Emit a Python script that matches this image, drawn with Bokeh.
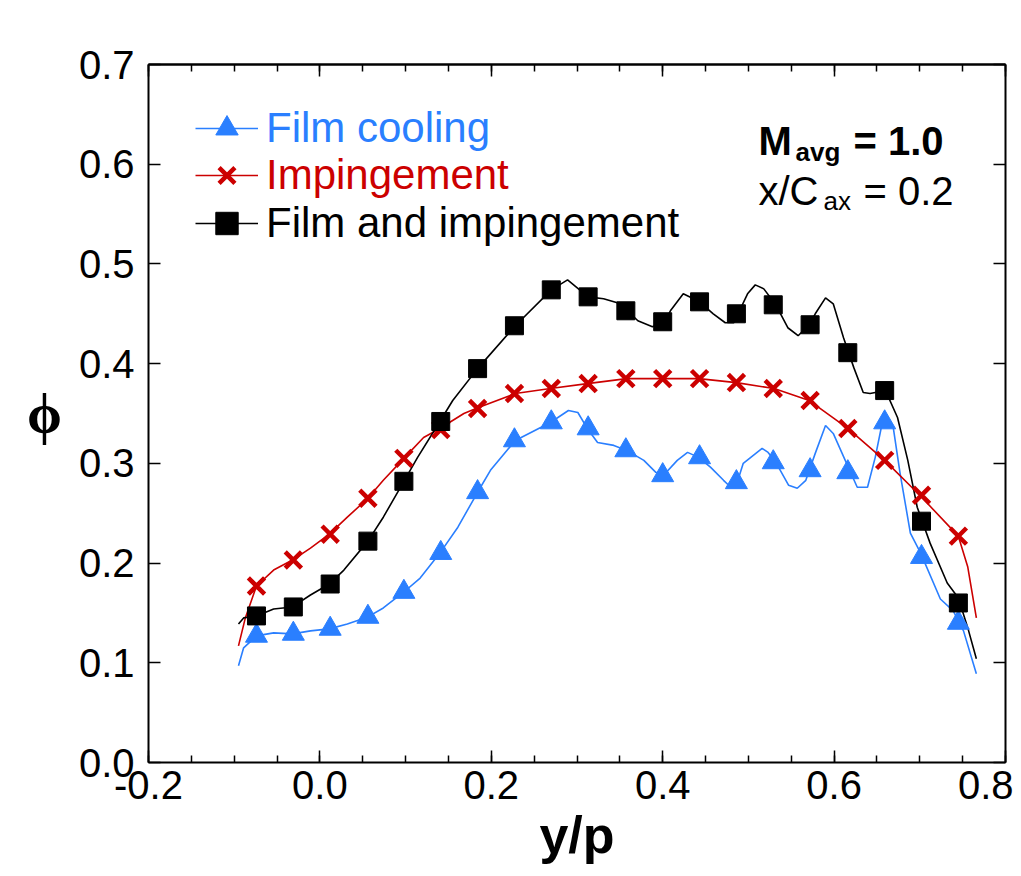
from bokeh.plotting import figure
from bokeh.models import (Range1d, LinearAxis, FixedTicker, NumeralTickFormatter,
                          Legend, LegendItem, Label)
from bokeh.embed import file_html
from bokeh.resources import INLINE

# ---------------- data ----------------
# marker positions (y/p)
marker_x = [-0.074, -0.031, 0.012, 0.056, 0.098, 0.141, 0.184, 0.227, 0.270, 0.313,
            0.357, 0.400, 0.443, 0.486, 0.529, 0.572, 0.616, 0.659, 0.702, 0.745]
film_marker = [0.127, 0.129, 0.134, 0.146, 0.171, 0.210, 0.271, 0.323, 0.341, 0.335,
               0.313, 0.288, 0.306, 0.281, 0.301, 0.293, 0.291, 0.341, 0.206, 0.140]
imp_marker = [0.177, 0.203, 0.229, 0.265, 0.305, 0.334, 0.355, 0.370, 0.375, 0.380,
              0.385, 0.385, 0.385, 0.381, 0.375, 0.363, 0.335, 0.303, 0.268, 0.227]
both_marker = [0.147, 0.156, 0.179, 0.222, 0.282, 0.342, 0.395, 0.438, 0.474, 0.467,
               0.453, 0.442, 0.462, 0.450, 0.459, 0.439, 0.411, 0.373, 0.242, 0.160]

# continuous curves
film_x = [-0.095, -0.089, -0.074, -0.054, -0.032, -0.011, 0.011, 0.032, 0.056, 0.074,
          0.098, 0.117, 0.140, 0.161, 0.184, 0.199, 0.228, 0.269, 0.290, 0.301,
          0.312, 0.324, 0.343, 0.358, 0.378, 0.392, 0.401, 0.417, 0.429, 0.442,
          0.456, 0.471, 0.477, 0.487, 0.494, 0.516, 0.523, 0.532, 0.547, 0.557,
          0.567, 0.578, 0.590, 0.599, 0.613, 0.627, 0.639, 0.648, 0.656, 0.669,
          0.677, 0.689, 0.701, 0.724, 0.739, 0.751, 0.766]
film_y = [0.097, 0.115, 0.127, 0.130, 0.129, 0.132, 0.134, 0.139, 0.146, 0.155,
          0.171, 0.185, 0.210, 0.236, 0.271, 0.293, 0.323, 0.341, 0.353, 0.351,
          0.335, 0.321, 0.318, 0.313, 0.303, 0.291, 0.288, 0.303, 0.311, 0.306,
          0.296, 0.283, 0.278, 0.281, 0.300, 0.315, 0.311, 0.301, 0.278, 0.275,
          0.283, 0.310, 0.338, 0.330, 0.303, 0.276, 0.276, 0.306, 0.340, 0.336,
          0.290, 0.230, 0.210, 0.164, 0.152, 0.132, 0.089]

imp_x = [-0.095, -0.087, -0.074, -0.054, -0.032, -0.011, 0.011, 0.032, 0.056, 0.074,
         0.098, 0.121, 0.138, 0.168, 0.185, 0.228, 0.269, 0.312, 0.358, 0.402,
         0.442, 0.486, 0.530, 0.571, 0.616, 0.659, 0.700, 0.745, 0.756, 0.766]
imp_y = [0.117, 0.145, 0.177, 0.193, 0.203, 0.215, 0.229, 0.246, 0.265, 0.283,
         0.305, 0.326, 0.334, 0.350, 0.356, 0.370, 0.375, 0.380, 0.385, 0.385,
         0.385, 0.381, 0.375, 0.363, 0.335, 0.303, 0.268, 0.227, 0.196, 0.145]

both_x = [-0.095, -0.089, -0.074, -0.054, -0.032, -0.011, 0.011, 0.028, 0.056, 0.074,
          0.098, 0.114, 0.140, 0.155, 0.184, 0.228, 0.270, 0.289, 0.313, 0.331,
          0.347, 0.359, 0.371, 0.388, 0.402, 0.409, 0.424, 0.443, 0.459, 0.473,
          0.483, 0.499, 0.508, 0.518, 0.532, 0.546, 0.558, 0.571, 0.578, 0.590,
          0.599, 0.611, 0.623, 0.634, 0.642, 0.660, 0.674, 0.686, 0.697, 0.712,
          0.732, 0.745, 0.756, 0.766]
both_y = [0.139, 0.145, 0.147, 0.154, 0.156, 0.168, 0.179, 0.193, 0.222, 0.246,
          0.282, 0.306, 0.342, 0.363, 0.395, 0.438, 0.474, 0.484, 0.467, 0.465,
          0.461, 0.453, 0.443, 0.437, 0.442, 0.453, 0.470, 0.462, 0.450, 0.441,
          0.441, 0.470, 0.479, 0.475, 0.459, 0.436, 0.428, 0.439, 0.450, 0.466,
          0.460, 0.426, 0.396, 0.371, 0.370, 0.373, 0.346, 0.303, 0.256, 0.220,
          0.180, 0.165, 0.135, 0.104]

series_labels = ["Film cooling", "Impingement", "Film and impingement"]
x_ticks = [-0.2, 0.0, 0.2, 0.4, 0.6, 0.8]
x_minor = [-0.2, -0.15, -0.1, -0.05, 0.0, 0.05, 0.1, 0.15, 0.2, 0.25, 0.3, 0.35,
           0.4, 0.45, 0.5, 0.55, 0.6, 0.65, 0.7, 0.75, 0.8]
y_ticks = [0.0, 0.1, 0.2, 0.3, 0.4, 0.5, 0.6, 0.7]

BLUE = "#2a7fff"
RED = "#cc0000"
BLACK = "#000000"
FONT = "Liberation Sans"

p = figure(frame_width=857, frame_height=698, output_backend="svg", toolbar_location=None,
           x_range=Range1d(-0.2, 0.8), y_range=Range1d(0.0, 0.7),
           min_border_left=148, min_border_right=8, min_border_top=64, min_border_bottom=106)
p.background_fill_color = "white"
p.border_fill_color = "white"
p.outline_line_color = None
p.xgrid.visible = False
p.ygrid.visible = False


def style_axis(ax, major, minor):
    ax.ticker = FixedTicker(ticks=major, minor_ticks=minor)
    ax.formatter = NumeralTickFormatter(format="0.0")
    ax.axis_line_width = 2
    ax.axis_line_color = "black"
    ax.major_tick_in = 12
    ax.major_tick_out = 0
    ax.major_tick_line_width = 1.5
    ax.major_tick_line_color = "black"
    ax.minor_tick_in = 7
    ax.minor_tick_out = 0
    ax.minor_tick_line_width = 1.5
    ax.minor_tick_line_color = "black" if minor else None
    ax.major_label_text_font = FONT
    ax.major_label_text_color = "black"
    ax.major_label_text_font_size = "40px"


xb = p.xaxis[0]
yl = p.yaxis[0]
style_axis(xb, x_ticks, x_minor)
style_axis(yl, y_ticks, [])
xb.major_label_standoff = 8
yl.major_label_standoff = 14

xb.axis_label = "y/p"
xb.axis_label_text_font = FONT
xb.axis_label_text_font_size = "52px"
xb.axis_label_text_font_style = "bold"
xb.axis_label_text_color = "black"
xb.axis_label_standoff = 4

yl.axis_label = "ϕ"
yl.axis_label_text_font = "Liberation Serif"
yl.axis_label_text_font_size = "56px"
yl.axis_label_text_font_style = "bold"
yl.axis_label_text_color = "black"
yl.axis_label_standoff = 14
try:
    yl.axis_label_orientation = "horizontal"
except Exception:
    pass


def mirror_axis(minor_positions, tick_len):
    ax = LinearAxis()
    ax.ticker = FixedTicker(ticks=[], minor_ticks=minor_positions)
    ax.axis_line_width = 2
    ax.axis_line_color = "black"
    ax.major_tick_line_color = None
    ax.minor_tick_in = tick_len
    ax.minor_tick_out = 0
    ax.minor_tick_line_width = 1.5
    ax.minor_tick_line_color = "black"
    ax.major_label_standoff = 0
    return ax


p.add_layout(mirror_axis(x_minor, 7), "above")
p.add_layout(mirror_axis(x_ticks, 12), "above")
p.add_layout(mirror_axis(y_ticks, 12), "right")

# curves
l_film = p.line(film_x, film_y, line_color=BLUE, line_width=1.6)
l_imp = p.line(imp_x, imp_y, line_color=RED, line_width=1.6)
l_both = p.line(both_x, both_y, line_color=BLACK, line_width=1.6)

s_film = p.scatter(marker_x, film_marker, marker="triangle", size=22,
                   fill_color=BLUE, line_color=BLUE, line_width=1)
s_imp = p.scatter(marker_x, imp_marker, marker="x", size=23,
                  line_color=RED, line_width=4.5)
s_both = p.scatter(marker_x, both_marker, marker="square", size=18,
                   fill_color=BLACK, line_color=BLACK, line_width=1)

legend_specs = [(series_labels[0], [l_film, s_film], BLUE, 606),
                (series_labels[1], [l_imp, s_imp], RED, 559),
                (series_labels[2], [l_both, s_both], BLACK, 511)]
for lab, rends, col, ypos in legend_specs:
    lg = Legend(items=[LegendItem(label=lab, renderers=rends)],
                location=(47, ypos), orientation="vertical",
                glyph_width=63, glyph_height=56, label_height=56, label_standoff=8,
                padding=0, margin=0, spacing=0,
                background_fill_alpha=0, border_line_color=None,
                label_text_font=FONT, label_text_font_size="42px",
                label_text_color=col, label_text_baseline="middle")
    p.add_layout(lg, "center")

# annotation text
ann = [("M", 610, 622, "40px", "bold"),
       ("avg", 647, 611, "26px", "bold"),
       ("= 1.0", 705, 622, "40px", "bold"),
       ("x/C", 610, 572, "40px", "normal"),
       ("ax", 675, 562, "26px", "normal"),
       ("= 0.2", 715, 572, "40px", "normal")]
for t, ax_, ay_, fs, st in ann:
    p.add_layout(Label(x=ax_, y=ay_, x_units="screen", y_units="screen", text=t,
                       text_font=FONT, text_font_size=fs, text_font_style=st,
                       text_align="left", text_baseline="alphabetic", text_color="black"))

open("out.html", "w").write(file_html(p, INLINE))
